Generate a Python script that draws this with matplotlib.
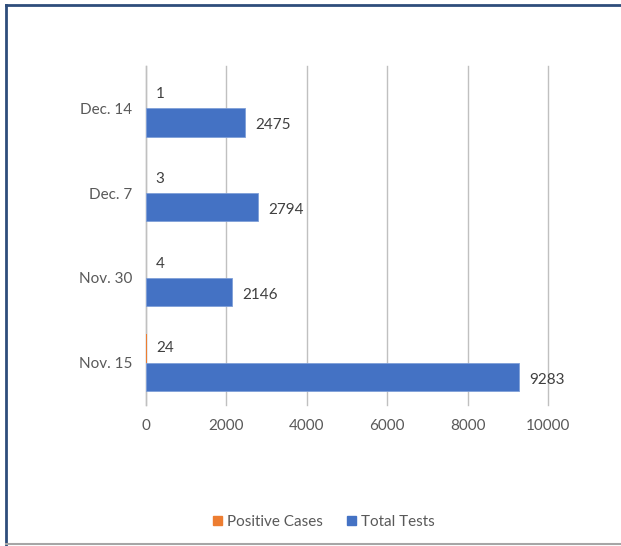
import numpy as np
import matplotlib
matplotlib.use("Agg")
import matplotlib.pyplot as plt
from matplotlib.patches import Rectangle
from matplotlib.lines import Line2D

plt.rcParams['font.family'] = ['Lato', 'DejaVu Sans']

dates = ["Nov. 15", "Nov. 30", "Dec. 7", "Dec. 14"]
positive = [24, 4, 3, 1]
total = [9283, 2146, 2794, 2475]

c_pos = "#ED7D31"
c_tot = "#4472C4"
txt = "#595959"

fig = plt.figure(figsize=(6.21, 5.46), dpi=100)
ax = fig.add_axes([146/621, 1-405/546, (548-146)/621, (405-66)/546])

y = np.arange(len(dates))
h = 1/3
ax.barh(y + h/2, positive, height=h, color=c_pos, linewidth=0, zorder=3)
ax.barh(y - h/2, total, height=h, color=c_tot, edgecolor="#7f9fd8", linewidth=0.6, zorder=3)

for yi, p, t in zip(y, positive, total):
    ax.annotate(str(p), (p, yi + h/2), xytext=(7, 0), textcoords="offset points",
                va="center", ha="left", fontsize=11, color="#404040")
    ax.annotate(str(t), (t, yi - h/2), xytext=(7, -2), textcoords="offset points",
                va="center", ha="left", fontsize=11, color="#404040")

ax.set_xlim(0, 10000)
ax.set_ylim(-0.5, 3.5)
ax.set_xticks(range(0, 10001, 2000))
ax.set_yticks(y)
ax.set_yticklabels(dates)
ax.tick_params(axis="both", length=0, labelsize=11, labelcolor=txt, pad=10)
ax.tick_params(axis="y", pad=10)
ax.grid(axis="x", color="#c0c0c0", linewidth=1, zorder=0)
for gl in ax.get_xgridlines():
    gl.set_clip_on(False)
for s in ["top", "right", "bottom"]:
    ax.spines[s].set_visible(False)
ax.spines["left"].set_color("#c0c0c0")
ax.spines["left"].set_linewidth(1)

handles = [Rectangle((0, 0), 1, 1, color=c_pos), Rectangle((0, 0), 1, 1, color=c_tot)]
fig.legend(handles, ["Positive Cases", "Total Tests"], loc="center", bbox_to_anchor=(324/621, 1-522/546),
           ncol=2, frameon=False, fontsize=11, labelcolor=txt, handlelength=0.6, handleheight=0.6,
           handletextpad=0.3, columnspacing=1.6)

# outer frame
fig.add_artist(Line2D([6/621, 6/621], [0, 1-5/546], color="#2E4D7B", linewidth=2, transform=fig.transFigure))
fig.add_artist(Line2D([6/621, 1], [1-5/546, 1-5/546], color="#2E4D7B", linewidth=2, transform=fig.transFigure))
fig.add_artist(Line2D([6/621, 1], [1-544/546, 1-544/546], color="#A6A6A6", linewidth=1.5, transform=fig.transFigure))

fig.savefig("out.png", dpi=100, facecolor="white")
